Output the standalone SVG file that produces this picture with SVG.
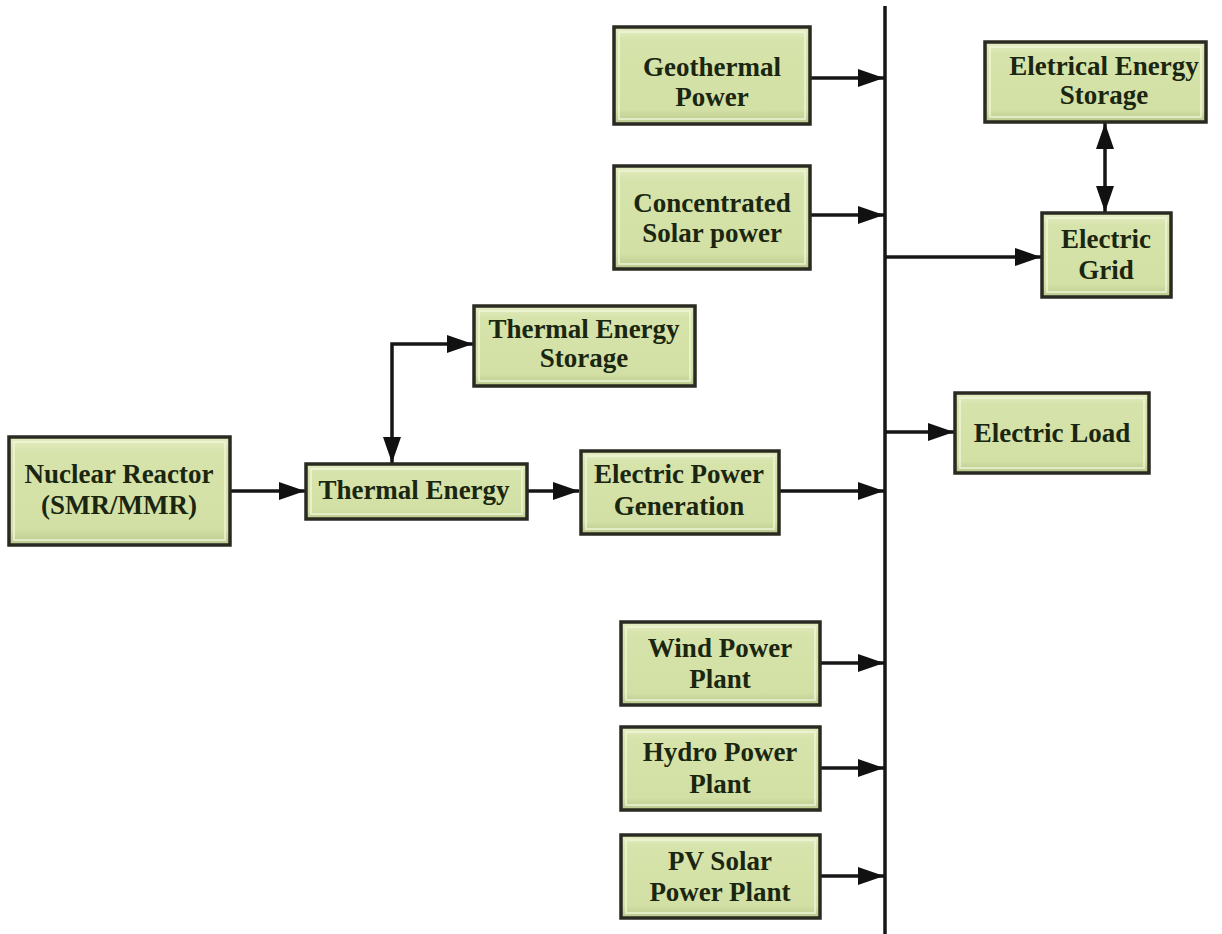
<svg xmlns="http://www.w3.org/2000/svg" width="1222" height="934" viewBox="0 0 1222 934">
<style>
.box{fill:url(#g);stroke:#2a2a22;stroke-width:3.5}
.bev{fill:none;stroke:#f1f6dc;stroke-width:2;opacity:0.7}
.t{font-family:"Liberation Serif","Times New Roman",serif;font-weight:bold;font-size:27px;fill:#1b2610;text-anchor:middle}
.c{stroke:#161616;stroke-width:3.5;fill:none}
.a{marker-end:url(#ah)}
.b{marker-start:url(#ah);marker-end:url(#ah)}
</style>
<defs>
<linearGradient id="g" x1="0" y1="0" x2="0" y2="1">
<stop offset="0" stop-color="#e4edc3"/>
<stop offset="0.15" stop-color="#d6e3aa"/>
<stop offset="0.85" stop-color="#d2e0a5"/>
<stop offset="1" stop-color="#b9c88c"/>
</linearGradient>
<marker id="ah" markerUnits="userSpaceOnUse" markerWidth="27" markerHeight="20" refX="26" refY="10" orient="auto-start-reverse">
<path d="M0,1 L26,10 L0,19 z" fill="#111"/>
</marker>
</defs>
<rect width="1222" height="934" fill="#ffffff"/>

<g id="connectors">
<line class="c" x1="885" y1="6" x2="885" y2="934"/>
<line class="c a" x1="810" y1="78" x2="884" y2="78"/>
<line class="c a" x1="810" y1="215" x2="884" y2="215"/>
<line class="c a" x1="886" y1="257" x2="1041" y2="257"/>
<line class="c b" x1="1105" y1="123" x2="1105" y2="212"/>
<line class="c a" x1="886" y1="432" x2="954" y2="432"/>
<line class="c a" x1="230" y1="491" x2="305" y2="491"/>
<line class="c a" x1="527" y1="491" x2="579" y2="491"/>
<line class="c a" x1="779" y1="491" x2="884" y2="491"/>
<path class="c b" d="M392,463 L392,344 L473,344"/>
<line class="c a" x1="820" y1="663" x2="884" y2="663"/>
<line class="c a" x1="820" y1="768" x2="884" y2="768"/>
<line class="c a" x1="820" y1="876" x2="884" y2="876"/>
</g>

<g id="nuclear">
<rect class="box" x="9" y="437" width="221" height="108"/>
<rect class="bev" x="14" y="442" width="211" height="98"/>
<text class="t" x="119" y="483">Nuclear Reactor</text>
<text class="t" x="119" y="514">(SMR/MMR)</text>
</g>

<g id="thermal">
<rect class="box" x="306" y="464" width="221" height="55"/>
<rect class="bev" x="311" y="469" width="211" height="45"/>
<text class="t" x="414" y="499">Thermal Energy</text>
</g>

<g id="tes">
<rect class="box" x="474" y="306" width="221" height="80"/>
<rect class="bev" x="479" y="311" width="211" height="70"/>
<text class="t" x="584" y="338">Thermal Energy</text>
<text class="t" x="584" y="367">Storage</text>
</g>

<g id="epg">
<rect class="box" x="581" y="451" width="198" height="83"/>
<rect class="bev" x="586" y="456" width="188" height="73"/>
<text class="t" x="679" y="483">Electric Power</text>
<text class="t" x="679" y="515">Generation</text>
</g>

<g id="geothermal">
<rect class="box" x="614" y="27" width="196" height="97"/>
<rect class="bev" x="619" y="32" width="186" height="87"/>
<text class="t" x="712" y="76">Geothermal</text>
<text class="t" x="712" y="106">Power</text>
</g>

<g id="csp">
<rect class="box" x="614" y="166" width="196" height="103"/>
<rect class="bev" x="619" y="171" width="186" height="93"/>
<text class="t" x="712" y="212">Concentrated</text>
<text class="t" x="712" y="242">Solar power</text>
</g>

<g id="wind">
<rect class="box" x="621" y="622" width="199" height="83"/>
<rect class="bev" x="626" y="627" width="189" height="73"/>
<text class="t" x="720" y="657">Wind Power</text>
<text class="t" x="720" y="688">Plant</text>
</g>

<g id="hydro">
<rect class="box" x="621" y="727" width="199" height="83"/>
<rect class="bev" x="626" y="732" width="189" height="73"/>
<text class="t" x="720" y="761">Hydro Power</text>
<text class="t" x="720" y="793">Plant</text>
</g>

<g id="pv">
<rect class="box" x="621" y="835" width="199" height="83"/>
<rect class="bev" x="626" y="840" width="189" height="73"/>
<text class="t" x="720" y="870">PV Solar</text>
<text class="t" x="720" y="901">Power Plant</text>
</g>

<g id="ees">
<rect class="box" x="985" y="42" width="221" height="80"/>
<rect class="bev" x="990" y="47" width="211" height="70"/>
<text class="t" x="1104" y="75">Eletrical Energy</text>
<text class="t" x="1104" y="104">Storage</text>
</g>

<g id="grid">
<rect class="box" x="1042" y="213" width="129" height="84"/>
<rect class="bev" x="1047" y="218" width="119" height="74"/>
<text class="t" x="1106" y="248">Electric</text>
<text class="t" x="1106" y="279">Grid</text>
</g>

<g id="load">
<rect class="box" x="955" y="393" width="194" height="80"/>
<rect class="bev" x="960" y="398" width="184" height="70"/>
<text class="t" x="1052" y="442">Electric Load</text>
</g>
</svg>
